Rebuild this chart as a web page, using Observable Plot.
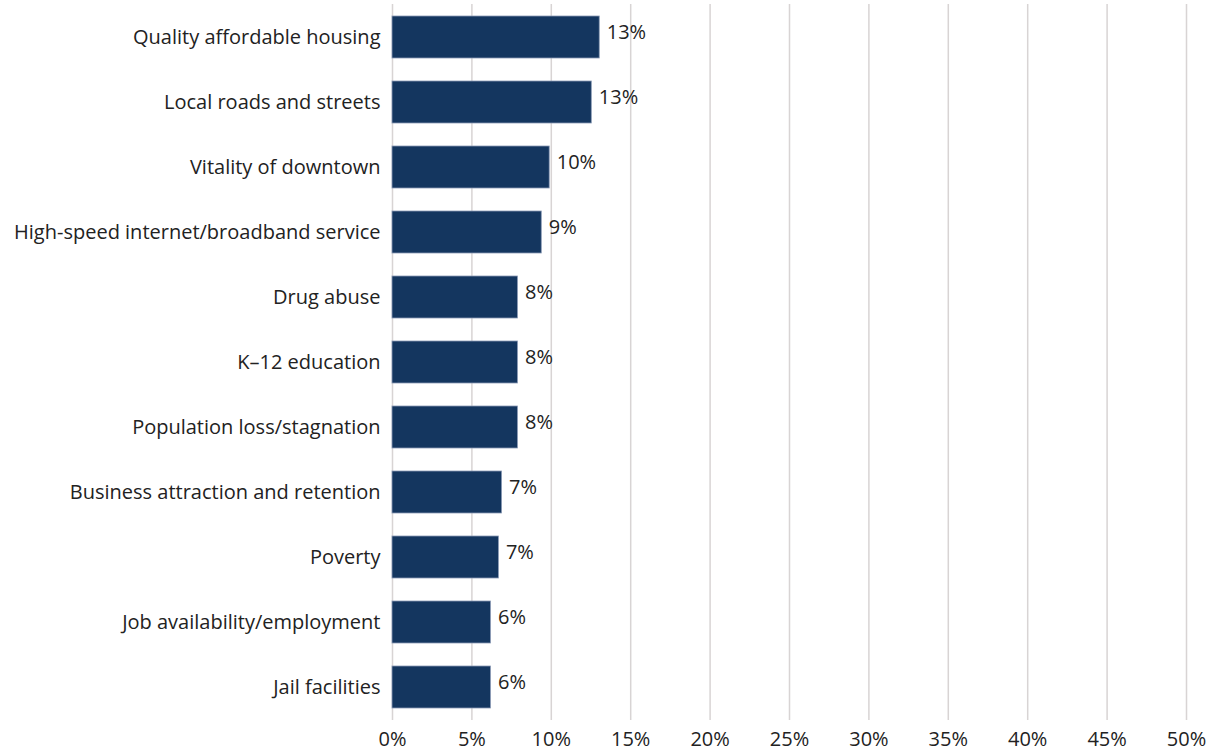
<!DOCTYPE html>
<html>
<head>
<meta charset="utf-8">
<script src="https://cdn.jsdelivr.net/npm/d3@7"></script>
<script src="https://cdn.jsdelivr.net/npm/@observablehq/plot@0.6"></script>
<style>
  html, body { margin: 0; padding: 0; background: #fff; }
  #chart svg { display: block; }
</style>
</head>
<body>
<div id="chart"></div>
<script>
const categories = [
  "Quality affordable housing",
  "Local roads and streets",
  "Vitality of downtown",
  "High-speed internet/broadband service",
  "Drug abuse",
  "K\u201312 education",
  "Population loss/stagnation",
  "Business attraction and retention",
  "Poverty",
  "Job availability/employment",
  "Jail facilities"
];
const values = [13.05, 12.55, 9.9, 9.4, 7.9, 7.9, 7.9, 6.9, 6.7, 6.2, 6.2];
const xTicks = [0, 5, 10, 15, 20, 25, 30, 35, 40, 45, 50];

const data = categories.map((c, i) => ({category: c, value: values[i]}));

const chart = Plot.plot({
  width: 1214,
  height: 754,
  marginLeft: 392,
  marginRight: 28,
  marginTop: 4,
  marginBottom: 34,
  style: {fontFamily: "'Open Sans', sans-serif", fontSize: "20px", color: "#222", background: "#fff"},
  x: {domain: [0, 50], ticks: xTicks, tickFormat: d => d + "%", label: null},
  y: {domain: categories, label: null, padding: 0.355, paddingOuter: 0.18},
  marks: [
    Plot.gridX(xTicks, {stroke: "#d8d4d4", strokeOpacity: 1, strokeWidth: 1.5}),
    Plot.axisX({ticks: xTicks, tickFormat: d => d + "%", tickSize: 0, tickPadding: 11, fontSize: 20, fill: "#222", label: null}),
    Plot.axisY({tickSize: 0, tickPadding: 12, fontSize: 20, fill: "#222", label: null}),
    Plot.barX(data, {x: "value", y: "category", fill: "#14365f", stroke: "#8a9ab5", strokeWidth: 0.8}),
    Plot.text(data, {x: "value", y: "category", text: d => Math.round(d.value) + "%", textAnchor: "start", dx: 7, dy: -5, fontSize: 20, fill: "#222"})
  ]
});
document.getElementById("chart").appendChild(chart);
</script>
</body>
</html>
